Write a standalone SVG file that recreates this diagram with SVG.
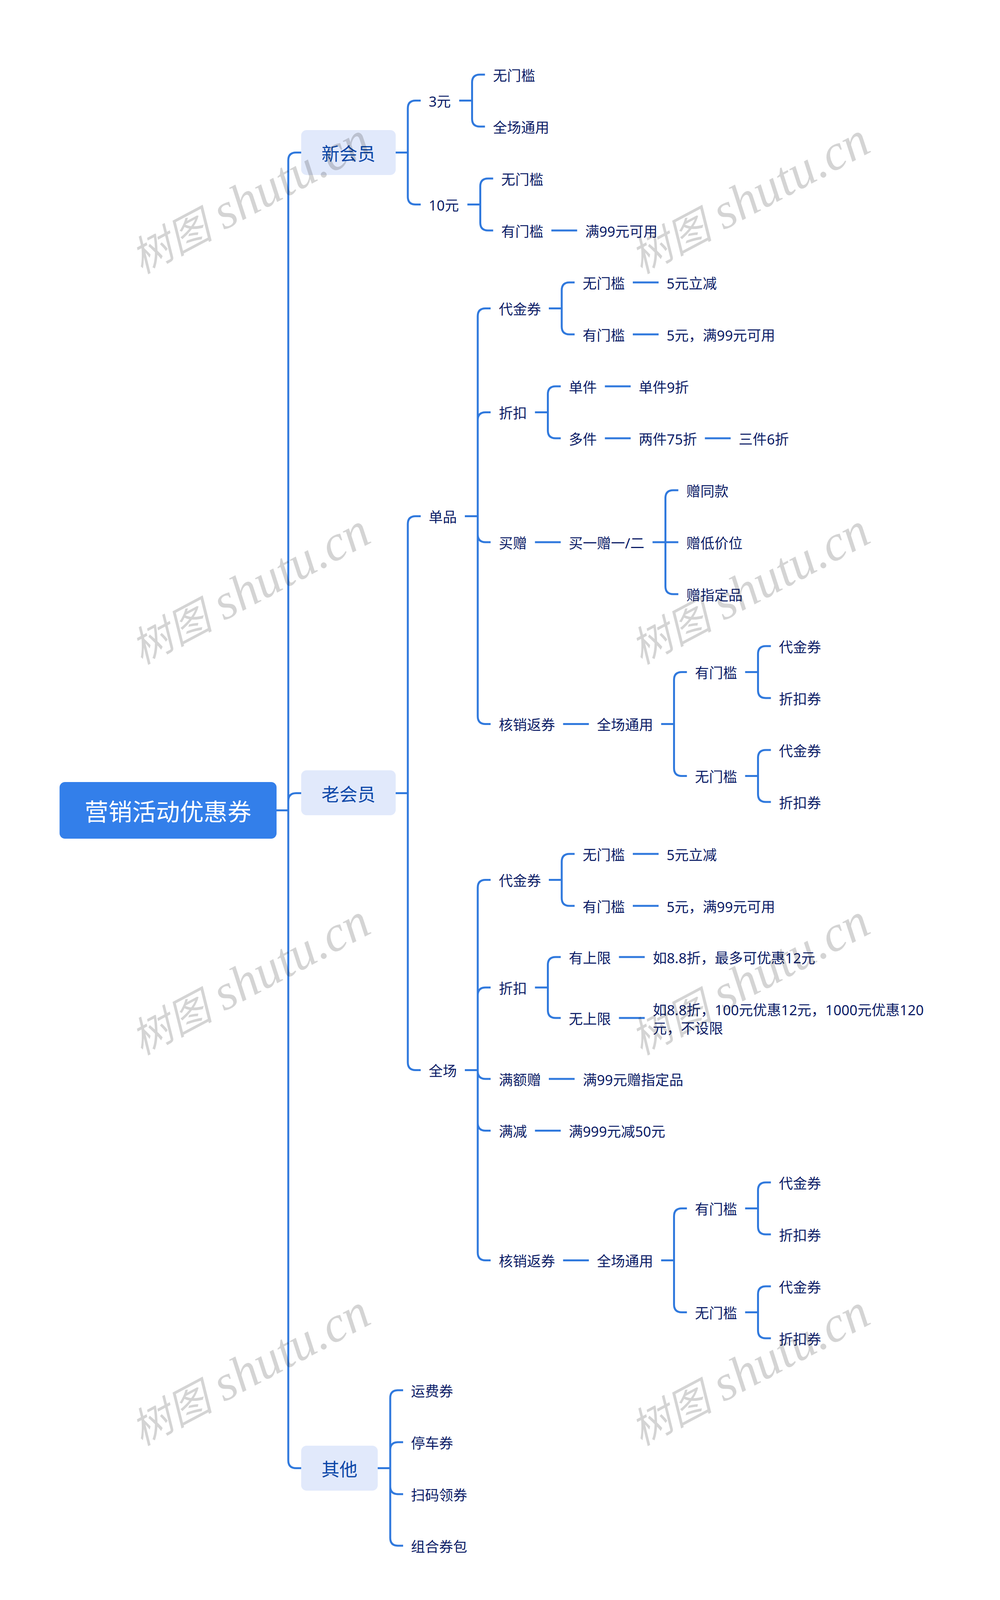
<svg xmlns="http://www.w3.org/2000/svg" width="2560" height="4149" viewBox="0 0 2560 4149">
<style>
text{font-family:"Noto Sans CJK SC","Noto Sans",sans-serif;dominant-baseline:central}
.l{font-family:"Noto Sans","Noto Sans CJK SC",sans-serif;font-size:36px;fill:#0b1c66;transform:translateY(1.7px)}
.m{font-size:46px;fill:#0d47a8;text-anchor:middle}
.r{font-size:61px;fill:#fff;text-anchor:middle}
.b{fill:#e1e9fb}
#connectors path{fill:none;stroke:#3079dd;stroke-width:5}
#watermark text{font-style:italic;fill:#000;fill-opacity:.17;dominant-baseline:auto;font-size:105px}
#watermark tspan{font-family:"Liberation Serif",serif;font-size:129px}
</style>
<rect width="2560" height="4149" fill="#fff"/>
<g id="connectors">
<path d="M708 2074.5H738M738 2074.5V410.5Q738 390.5 758 390.5H771M738 2074.5V2050.5Q738 2030.5 758 2030.5H771M738 2074.5V3738.5Q738 3758.5 758 3758.5H771"/>
<path d="M1012.5 390.5H1044M1044 390.5V277.5Q1044 257.5 1064 257.5H1077M1044 390.5V503.5Q1044 523.5 1064 523.5H1077"/>
<path d="M1175.5 257.5H1208.5M1208.5 257.5V211Q1208.5 191 1228.5 191H1241.5M1208.5 257.5V304Q1208.5 324 1228.5 324H1241.5"/>
<path d="M1196.5 523.5H1229.5M1229.5 523.5V477Q1229.5 457 1249.5 457H1262.5M1229.5 523.5V570Q1229.5 590 1249.5 590H1262.5M1411.5 590H1477.5"/>
<path d="M1012.5 2030.5H1044M1044 2030.5V1341.5Q1044 1321.5 1064 1321.5H1077M1044 2030.5V2719.5Q1044 2739.5 1064 2739.5H1077"/>
<path d="M1190 1321.5H1223M1223 1321.5V809.5Q1223 789.5 1243 789.5H1256M1223 1321.5V1075.5Q1223 1055.5 1243 1055.5H1256M1223 1321.5V1368Q1223 1388 1243 1388H1256M1223 1321.5V1833.5Q1223 1853.5 1243 1853.5H1256"/>
<path d="M1405 789.5H1438M1438 789.5V743Q1438 723 1458 723H1471M1438 789.5V836Q1438 856 1458 856H1471M1620 723H1686M1620 856H1686"/>
<path d="M1369.5 1055.5H1402.5M1402.5 1055.5V1009Q1402.5 989 1422.5 989H1435.5M1402.5 1055.5V1102Q1402.5 1122 1422.5 1122H1435.5M1548.5 989H1614.5M1548.5 1122H1614.5M1804.5 1122H1870.5"/>
<path d="M1369.5 1388H1435.5M1670.5 1388H1736.5M1703.5 1388V1275Q1703.5 1255 1723.5 1255H1736.5M1703.5 1388V1501Q1703.5 1521 1723.5 1521H1736.5"/>
<path d="M1441.5 1853.5H1507.5M1692.5 1853.5H1725.5M1725.5 1853.5V1740.5Q1725.5 1720.5 1745.5 1720.5H1758.5M1725.5 1853.5V1966.5Q1725.5 1986.5 1745.5 1986.5H1758.5"/>
<path d="M1907.5 1720.5H1940.5M1940.5 1720.5V1674Q1940.5 1654 1960.5 1654H1973.5M1940.5 1720.5V1767Q1940.5 1787 1960.5 1787H1973.5M1907.5 1986.5H1940.5M1940.5 1986.5V1940Q1940.5 1920 1960.5 1920H1973.5M1940.5 1986.5V2033Q1940.5 2053 1960.5 2053H1973.5"/>
<path d="M1190 2739.5H1223M1223 2739.5V2272.5Q1223 2252.5 1243 2252.5H1256M1223 2739.5V2548Q1223 2528 1243 2528H1256M1223 2739.5V2742Q1223 2762 1243 2762H1256M1223 2739.5V2874.5Q1223 2894.5 1243 2894.5H1256M1223 2739.5V3206.5Q1223 3226.5 1243 3226.5H1256"/>
<path d="M1405 2252.5H1438M1438 2252.5V2206Q1438 2186 1458 2186H1471M1438 2252.5V2299Q1438 2319 1458 2319H1471M1620 2186H1686M1620 2319H1686"/>
<path d="M1369.5 2528H1402.5M1402.5 2528V2470Q1402.5 2450 1422.5 2450H1435.5M1402.5 2528V2586Q1402.5 2606 1422.5 2606H1435.5M1584.5 2450H1650.5M1584.5 2606H1650.5"/>
<path d="M1405 2762H1471M1369.5 2894.5H1435.5"/>
<path d="M1441.5 3226.5H1507.5M1692.5 3226.5H1725.5M1725.5 3226.5V3113.5Q1725.5 3093.5 1745.5 3093.5H1758.5M1725.5 3226.5V3339.5Q1725.5 3359.5 1745.5 3359.5H1758.5"/>
<path d="M1907.5 3093.5H1940.5M1940.5 3093.5V3047Q1940.5 3027 1960.5 3027H1973.5M1940.5 3093.5V3140Q1940.5 3160 1960.5 3160H1973.5M1907.5 3359.5H1940.5M1940.5 3359.5V3313Q1940.5 3293 1960.5 3293H1973.5M1940.5 3359.5V3406Q1940.5 3426 1960.5 3426H1973.5"/>
<path d="M966.5 3758.5H999M999 3758.5V3579Q999 3559 1019 3559H1032M999 3758.5V3712Q999 3692 1019 3692H1032M999 3758.5V3805Q999 3825 1019 3825H1032M999 3758.5V3937Q999 3957 1019 3957H1032"/>
</g>
<g id="root"><rect x="152.5" y="2002" width="555.5" height="145" rx="14" fill="#337fea"/><text class="r" x="430" y="2074">营销活动优惠券</text></g>
<g id="n-new"><rect class="b" x="771" y="333" width="242" height="115" rx="14"/><text class="m" x="892" y="390">新会员</text></g>
<g id="n-old"><rect class="b" x="771" y="1972" width="242" height="115" rx="14"/><text class="m" x="892" y="2030">老会员</text></g>
<g id="n-other"><rect class="b" x="771" y="3701" width="196" height="115" rx="14"/><text class="m" x="869" y="3758">其他</text></g>
<g id="n1"><text class="l" x="1097.5" y="258">3元</text></g>
<g id="n2"><text class="l" x="1262" y="192">无门槛</text></g>
<g id="n3"><text class="l" x="1262" y="325">全场通用</text></g>
<g id="n4"><text class="l" x="1097.5" y="524">10元</text></g>
<g id="n5"><text class="l" x="1283" y="458">无门槛</text></g>
<g id="n6"><text class="l" x="1283" y="591">有门槛</text></g>
<g id="n7"><text class="l" x="1498" y="591">满99元可用</text></g>
<g id="n8"><text class="l" x="1097.5" y="1322">单品</text></g>
<g id="n9"><text class="l" x="1277" y="790">代金券</text></g>
<g id="n10"><text class="l" x="1491.5" y="724">无门槛</text></g>
<g id="n11"><text class="l" x="1706.5" y="724">5元立减</text></g>
<g id="n12"><text class="l" x="1491.5" y="857">有门槛</text></g>
<g id="n13"><text class="l" x="1706.5" y="857">5元，满99元可用</text></g>
<g id="n14"><text class="l" x="1277" y="1056">折扣</text></g>
<g id="n15"><text class="l" x="1456" y="990">单件</text></g>
<g id="n16"><text class="l" x="1635" y="990">单件9折</text></g>
<g id="n17"><text class="l" x="1456" y="1123">多件</text></g>
<g id="n18"><text class="l" x="1635" y="1123">两件75折</text></g>
<g id="n19"><text class="l" x="1891" y="1123">三件6折</text></g>
<g id="n20"><text class="l" x="1277" y="1389">买赠</text></g>
<g id="n21"><text class="l" x="1456" y="1389">买一赠一/二</text></g>
<g id="n22"><text class="l" x="1757" y="1256">赠同款</text></g>
<g id="n23"><text class="l" x="1757" y="1389">赠低价位</text></g>
<g id="n24"><text class="l" x="1757" y="1522">赠指定品</text></g>
<g id="n25"><text class="l" x="1277" y="1854">核销返券</text></g>
<g id="n26"><text class="l" x="1528" y="1854">全场通用</text></g>
<g id="n27"><text class="l" x="1779" y="1721">有门槛</text></g>
<g id="n28"><text class="l" x="1994" y="1655">代金券</text></g>
<g id="n29"><text class="l" x="1994" y="1788">折扣券</text></g>
<g id="n30"><text class="l" x="1779" y="1987">无门槛</text></g>
<g id="n31"><text class="l" x="1994" y="1921">代金券</text></g>
<g id="n32"><text class="l" x="1994" y="2054">折扣券</text></g>
<g id="n33"><text class="l" x="1097.5" y="2740">全场</text></g>
<g id="n34"><text class="l" x="1277" y="2253">代金券</text></g>
<g id="n35"><text class="l" x="1491.5" y="2187">无门槛</text></g>
<g id="n36"><text class="l" x="1706.5" y="2187">5元立减</text></g>
<g id="n37"><text class="l" x="1491.5" y="2320">有门槛</text></g>
<g id="n38"><text class="l" x="1706.5" y="2320">5元，满99元可用</text></g>
<g id="n39"><text class="l" x="1277" y="2529">折扣</text></g>
<g id="n40"><text class="l" x="1456" y="2451">有上限</text></g>
<g id="n41"><text class="l" x="1671" y="2451">如8.8折，最多可优惠12元</text></g>
<g id="n42"><text class="l" x="1456" y="2607">无上限</text></g>
<g id="n43"><text class="l" x="1671" y="2584">如8.8折，100元优惠12元，1000元优惠120</text><text class="l" x="1671" y="2631">元，不设限</text></g>
<g id="n44"><text class="l" x="1277" y="2763">满额赠</text></g>
<g id="n45"><text class="l" x="1492" y="2763">满99元赠指定品</text></g>
<g id="n46"><text class="l" x="1277" y="2895">满减</text></g>
<g id="n47"><text class="l" x="1456" y="2895">满999元减50元</text></g>
<g id="n48"><text class="l" x="1277" y="3227">核销返券</text></g>
<g id="n49"><text class="l" x="1528" y="3227">全场通用</text></g>
<g id="n50"><text class="l" x="1779" y="3094">有门槛</text></g>
<g id="n51"><text class="l" x="1994" y="3028">代金券</text></g>
<g id="n52"><text class="l" x="1994" y="3161">折扣券</text></g>
<g id="n53"><text class="l" x="1779" y="3360">无门槛</text></g>
<g id="n54"><text class="l" x="1994" y="3294">代金券</text></g>
<g id="n55"><text class="l" x="1994" y="3427">折扣券</text></g>
<g id="n56"><text class="l" x="1052" y="3560">运费券</text></g>
<g id="n57"><text class="l" x="1052" y="3693">停车券</text></g>
<g id="n58"><text class="l" x="1052" y="3826">扫码领券</text></g>
<g id="n59"><text class="l" x="1052" y="3958">组合券包</text></g>
<g id="watermark">
<text transform="translate(362 702) rotate(-28)">树图<tspan dx="-3"> shutu.cn</tspan></text>
<text transform="translate(1641 702) rotate(-28)">树图<tspan dx="-3"> shutu.cn</tspan></text>
<text transform="translate(362 1702) rotate(-28)">树图<tspan dx="-3"> shutu.cn</tspan></text>
<text transform="translate(1641 1702) rotate(-28)">树图<tspan dx="-3"> shutu.cn</tspan></text>
<text transform="translate(362 2702) rotate(-28)">树图<tspan dx="-3"> shutu.cn</tspan></text>
<text transform="translate(1641 2702) rotate(-28)">树图<tspan dx="-3"> shutu.cn</tspan></text>
<text transform="translate(362 3702) rotate(-28)">树图<tspan dx="-3"> shutu.cn</tspan></text>
<text transform="translate(1641 3702) rotate(-28)">树图<tspan dx="-3"> shutu.cn</tspan></text>
</g>
</svg>
